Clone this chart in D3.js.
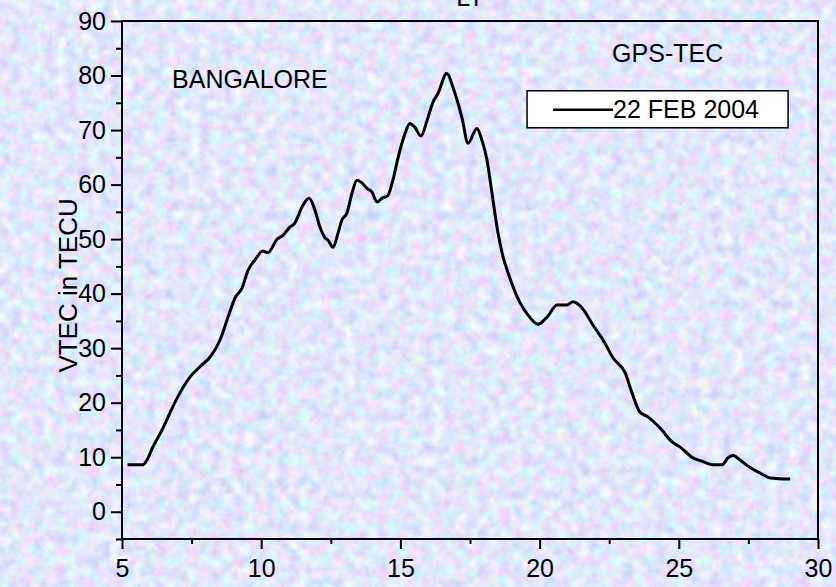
<!DOCTYPE html>
<meta charset="utf-8">
<script src="https://d3js.org/d3.v7.min.js"></script>
<style>
  body { margin: 0; }
  text { font-family: "Liberation Sans", Arial, sans-serif; fill: #000; }
</style>
<body>
<div id="my_dataviz"></div>
<script>

  // data: local time (hours) and VTEC (TECU)
  var hours = [5.2, 5.75, 5.9, 6.11, 6.44, 6.72, 7.08, 7.44, 7.8, 8.23, 8.52, 8.81, 9.06, 9.31, 9.53, 9.78,
    10.06, 10.24, 10.57, 10.78, 11.03, 11.2, 11.5, 11.72, 11.93, 12.11, 12.3, 12.4, 12.58, 12.76, 12.9,
    13.08, 13.26, 13.44, 13.62, 13.8, 13.98, 14.16, 14.34, 14.55, 14.73, 14.91, 15.17, 15.34, 15.52,
    15.74, 15.96, 16.17, 16.35, 16.67, 16.89, 17.21, 17.43, 17.75, 17.93, 18.11, 18.29, 18.47, 18.69,
    18.87, 19.3, 19.58, 19.94, 20.27, 20.63, 20.98, 21.2, 21.52, 21.92, 22.28, 22.64, 23.07, 23.32,
    23.6, 23.89, 24.32, 24.76, 25.04, 25.5, 25.87, 26.23, 26.55, 26.77, 26.95, 27.2, 27.56, 27.92,
    28.28, 29.0];
  var vtec = [8.6, 8.6, 9.5, 11.9, 15, 18.1, 21.8, 24.7, 26.6, 28.8, 31.5, 35.7, 39.2, 41, 44.3, 46.2,
    47.8, 47.5, 50, 50.7, 52.2, 52.9, 56.2, 57.5, 55.3, 52.2, 50.2, 49.8, 48.5, 51.1, 53.5,
    54.8, 58.4, 60.8, 60.3, 59.3, 58.6, 56.8, 57.5, 58, 60.8, 64.8, 69.4, 71.2, 70.5,
    68.9, 71.8, 75.1, 76.7, 80.4, 77.8, 72.3, 67.6, 70.3, 68.1, 64.5, 58.4, 52.2, 46.7,
    43.8, 38.3, 36.1, 34.4, 35.7, 37.9, 37.9, 38.5, 37.4, 34.2, 31.5, 28.2, 25.5, 21.8,
    18.3, 17.4, 15.4, 12.8, 11.9, 9.9, 9.2, 8.6, 8.6, 9.9, 10.3, 9.5, 8.1, 7.1,
    6.2, 6.0];

  var xTicks = [5, 10, 15, 20, 25, 30];
  var xMinor = [7.5, 12.5, 17.5, 22.5, 27.5];
  var yTicks = [0, 10, 20, 30, 40, 50, 60, 70, 80, 90];
  var yMinor = [-5, 5, 15, 25, 35, 45, 55, 65, 75, 85];

  var seriesName = "22 FEB 2004";
  var station = "BANGALORE";
  var source = "GPS-TEC";

  // size of the picture and of the plot frame
  var W = 836, H = 587;
  var margin = { top: 21, right: 18, bottom: 48, left: 122 },
    width = W - margin.left - margin.right,
    height = H - margin.top - margin.bottom;

  var root = d3.select("#my_dataviz")
    .append("svg")
    .attr("width", W)
    .attr("height", H);

  // marbled pastel background (soft periwinkle with pink / cyan speckle)
  var defs = root.append("defs");
  var filt = defs.append("filter")
    .attr("id", "marble")
    .attr("x", 0).attr("y", 0).attr("width", "100%").attr("height", "100%");
  filt.append("feTurbulence")
    .attr("type", "fractalNoise")
    .attr("baseFrequency", "0.09")
    .attr("numOctaves", 3)
    .attr("seed", 7);
  filt.append("feColorMatrix")
    .attr("type", "matrix")
    .attr("values",
      "0.6 0 0 0 0.47 " +
      "0 0.55 0 0 0.53 " +
      "0 0 0.2 0 0.85 " +
      "0 0 0 0 1");

  root.append("rect")
    .attr("width", W).attr("height", H)
    .attr("fill", "#c6cff5");
  root.append("rect")
    .attr("width", W).attr("height", H)
    .attr("filter", "url(#marble)");

  var svg = root.append("g")
    .attr("transform", "translate(" + margin.left + "," + margin.top + ")");

  // scales
  var x = d3.scaleLinear()
    .domain([5, 30])
    .range([0, width]);
  var y = d3.scaleLinear()
    .domain([-5, 90])
    .range([height, 0]);

  // X axis: major ticks with labels, minor without
  var xAxis = svg.append("g")
    .attr("transform", "translate(0," + height + ")")
    .call(d3.axisBottom(x).tickValues(xTicks).tickSize(10).tickPadding(6).tickFormat(d3.format("d")));
  svg.append("g")
    .attr("transform", "translate(0," + height + ")")
    .call(d3.axisBottom(x).tickValues(xMinor).tickSize(5).tickFormat(""));

  // Y axis
  var yAxis = svg.append("g")
    .call(d3.axisLeft(y).tickValues(yTicks).tickSize(11).tickPadding(6).tickFormat(d3.format("d")));
  svg.append("g")
    .call(d3.axisLeft(y).tickValues(yMinor).tickSize(6).tickFormat(""));

  svg.selectAll(".domain").remove();
  svg.selectAll(".tick line").attr("stroke", "#000").attr("stroke-width", 2);
  svg.selectAll(".tick text")
    .style("font-size", "25px")
    .style("font-family", "'Liberation Sans', Arial, sans-serif")
    .attr("fill", "#000");
  xAxis.selectAll(".tick text").attr("dy", "0.86em");
  yAxis.selectAll(".tick text").attr("dx", "1");

  // frame
  svg.append("rect")
    .attr("x", 0).attr("y", 0)
    .attr("width", width).attr("height", height)
    .attr("fill", "none")
    .attr("stroke", "#000")
    .attr("stroke-width", 2);

  // the VTEC curve
  var data = hours.map(function (h, i) { return { t: h, v: vtec[i] }; });
  svg.append("path")
    .datum(data)
    .attr("fill", "none")
    .attr("stroke", "#000")
    .attr("stroke-width", 3)
    .attr("stroke-linejoin", "round")
    .attr("d", d3.line()
      .curve(d3.curveMonotoneX)
      .x(function (d) { return x(d.t); })
      .y(function (d) { return y(d.v); }));

  // axis titles
  root.append("text")
    .attr("x", margin.left + width / 2)
    .attr("y", 6)
    .attr("text-anchor", "middle")
    .style("font-size", "25px")
    .text("LT");

  root.append("text")
    .attr("transform", "translate(77," + (margin.top + y(41.5)) + ")rotate(-90)")
    .attr("text-anchor", "middle")
    .style("font-size", "26px")
    .text("VTEC in TECU");

  // annotations
  svg.append("text")
    .attr("x", x(6.8))
    .attr("y", y(77.7))
    .style("font-size", "25px")
    .text(station);

  svg.append("text")
    .attr("x", x(24.6))
    .attr("y", y(82.5))
    .attr("text-anchor", "middle")
    .style("font-size", "25px")
    .text(source);

  // legend box
  var lg = svg.append("g")
    .attr("transform", "translate(" + x(19.55) + "," + y(77.2) + ")");
  lg.append("rect")
    .attr("width", 261).attr("height", 37)
    .attr("fill", "#fff")
    .attr("stroke", "#000")
    .attr("stroke-width", 1.5);
  lg.append("line")
    .attr("x1", 26).attr("x2", 86)
    .attr("y1", 19).attr("y2", 19)
    .attr("stroke", "#000")
    .attr("stroke-width", 2.5);
  lg.append("text")
    .attr("x", 86).attr("y", 27)
    .style("font-size", "25px")
    .text(seriesName);

</script>
</body>
